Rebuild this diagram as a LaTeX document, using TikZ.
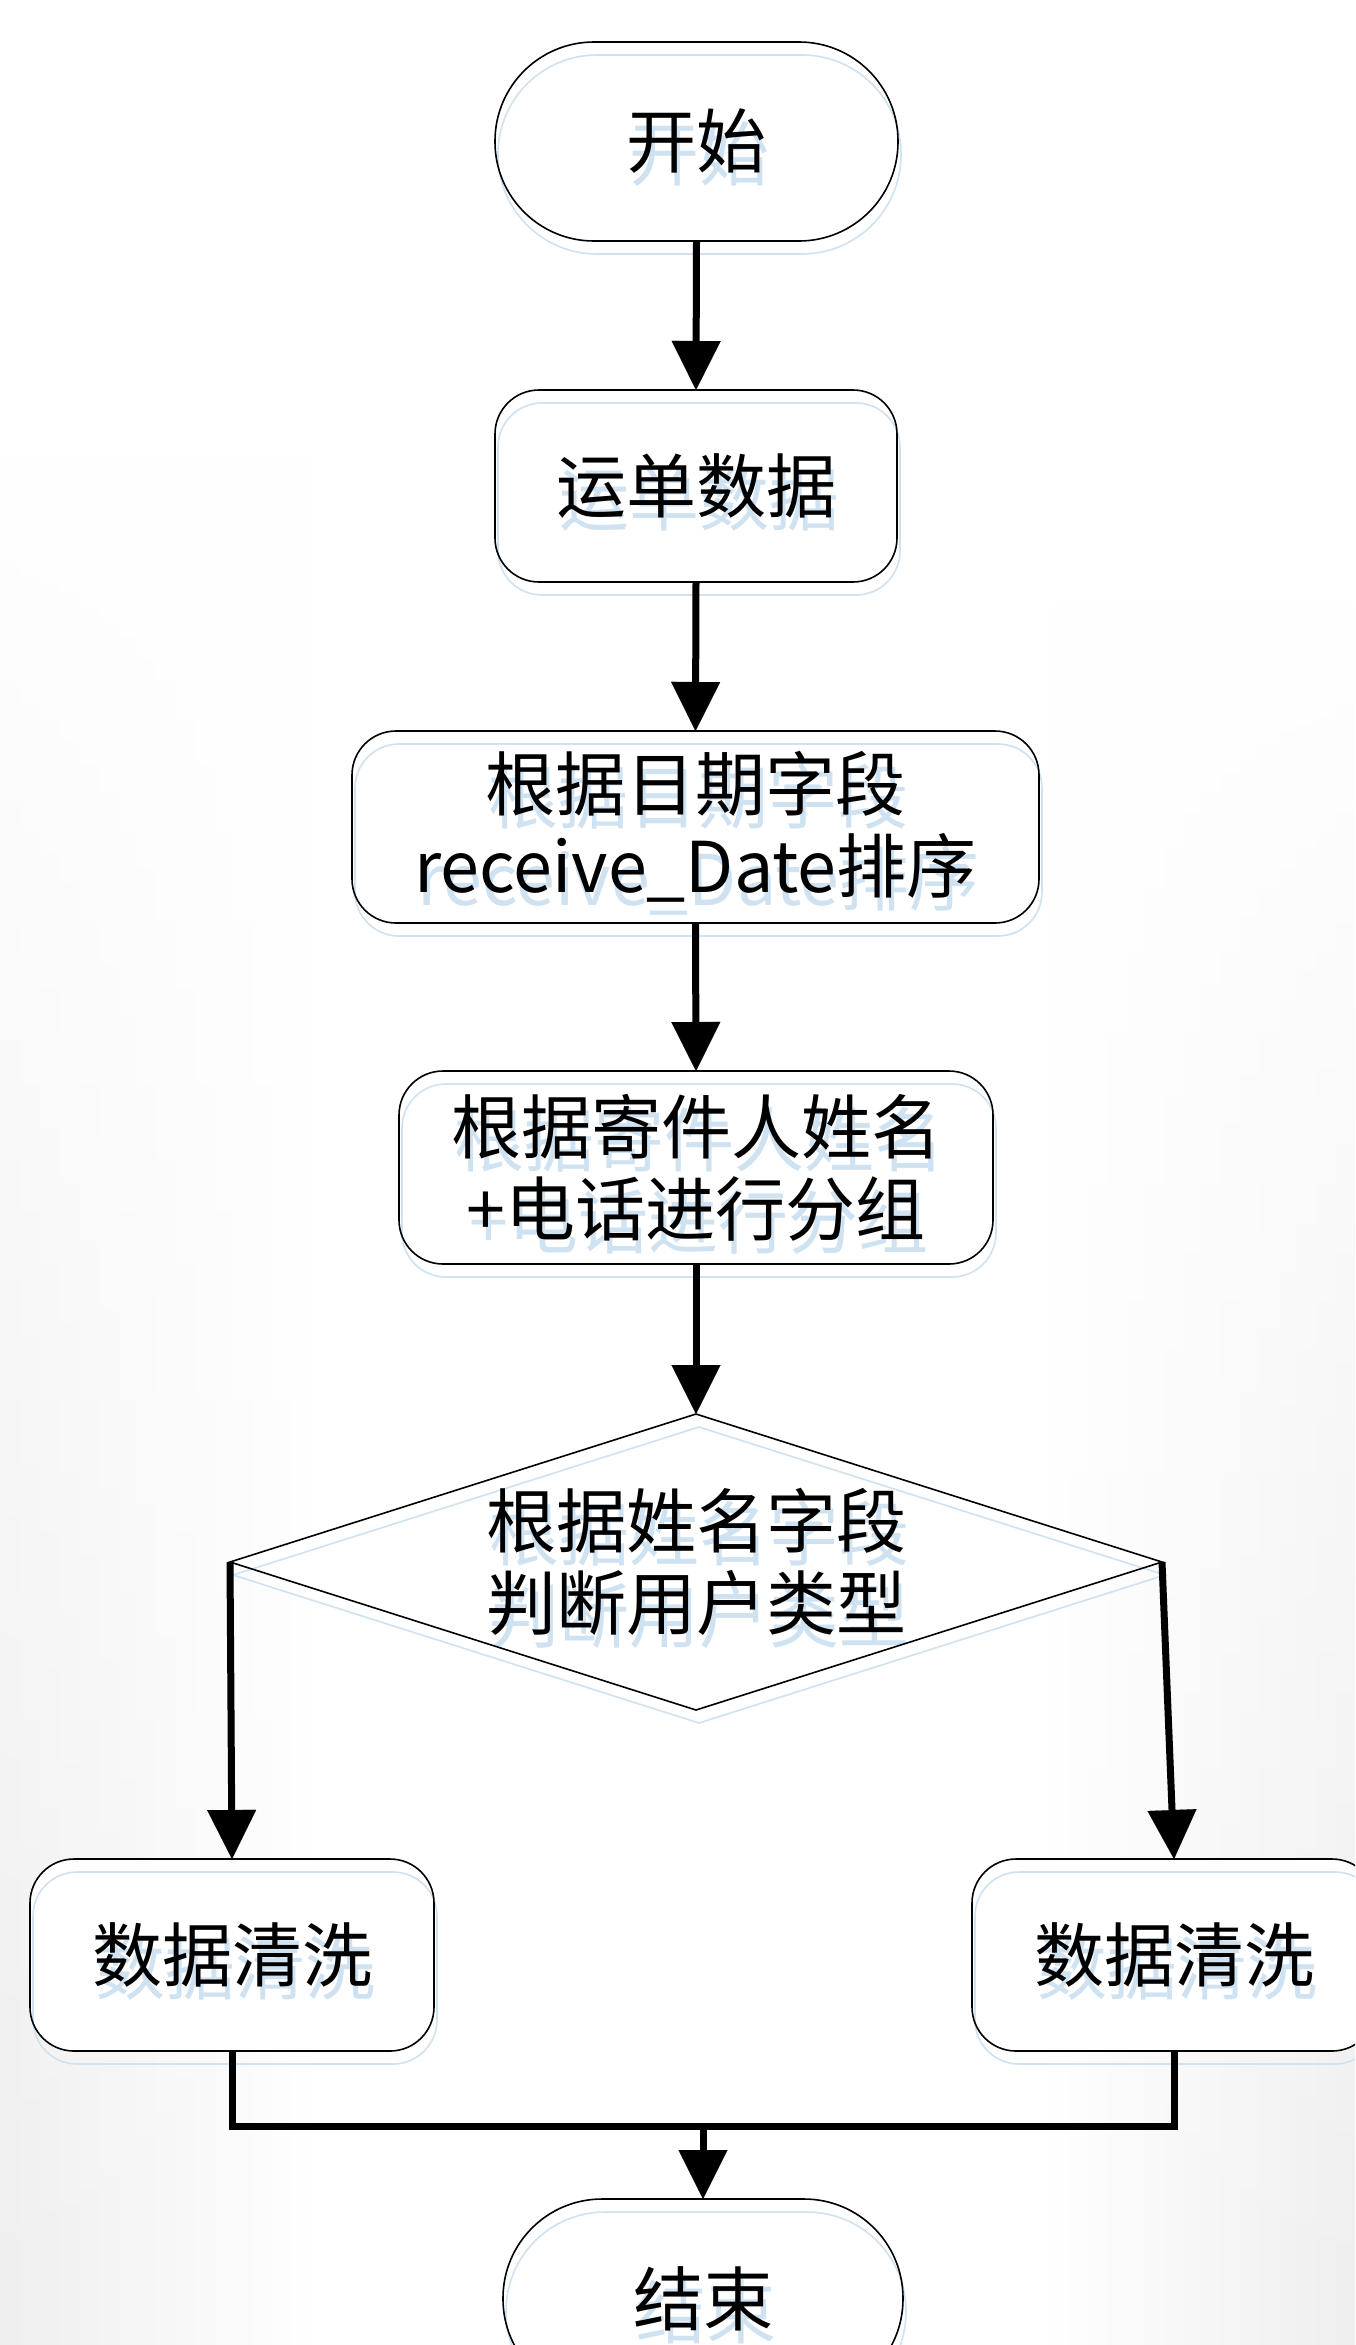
\documentclass[tikz,border=0pt]{standalone}
\usepackage{fontspec}
\newfontfamily\cjk{Noto Sans CJK SC}
\usetikzlibrary{shapes.geometric,arrows.meta,fadings}
\definecolor{shadowblue}{RGB}{207,226,242}
\newcommand\flowitem[5]{%
  \node[#1, fill=white, draw=none] at (#3,#4) {};
  \node[#1, draw=shadowblue, line width=1.6pt, text=shadowblue, xshift=3pt, yshift=-13pt] at (#3,#4) {#5};
  \node[#1, draw=black, line width=1.6pt, text=black] (#2) at (#3,#4) {#5};
}
\begin{document}
\begin{tikzpicture}[x=1pt,y=-1pt,
  txt/.style={font=\cjk\fontsize{70pt}{82pt}\selectfont, align=center, inner sep=0pt, outer sep=0pt},
  term/.style={txt, rectangle, rounded corners=99pt, minimum width=403pt, minimum height=199pt},
  rbox/.style={txt, rectangle, rounded corners=44pt, minimum height=192pt},
  dec/.style={txt, diamond, shape aspect=3.1, minimum width=932pt, minimum height=296pt},
  arr/.style={line width=7pt, -{Triangle[length=49pt,width=49pt,line width=0.1pt]}},
  bond/.style={line width=7pt, line join=miter}]
\useasboundingbox (0,0) rectangle (1355,2345);
\clip (0,0) rectangle (1355,2345);
\fill[white] (0,0) rectangle (1355,2345);
% faint background texture
\shade[left color=gray!13, right color=white, path fading=north] (0,450) rectangle (320,2345);
\shade[left color=white, right color=gray!13, path fading=north] (1040,600) rectangle (1355,2345);
% nodes
\flowitem{term}{st}{696.5}{141.5}{开始}
\flowitem{rbox, minimum width=402pt}{b2}{696}{486}{运单数据}
\flowitem{rbox, minimum width=687pt}{b3}{695.5}{827}{根据日期字段\\receive\_Date排序}
\flowitem{rbox, minimum width=594pt, minimum height=193pt}{b4}{696}{1167.5}{根据寄件人姓名\\+电话进行分组}
\flowitem{dec}{dia}{696}{1562}{根据姓名字段\\判断用户类型}
\flowitem{rbox, minimum width=404pt}{lb}{232}{1955}{数据清洗}
\flowitem{rbox, minimum width=404pt}{rb}{1174}{1955}{数据清洗}
\flowitem{term, minimum width=400pt}{en}{703}{2298.5}{结束}
% connectors
\draw[arr] (st.south) -- (b2.north);
\draw[arr] (b2.south) -- (b3.north);
\draw[arr] (b3.south) -- (b4.north);
\draw[arr] (b4.south) -- (dia.north);
\draw[arr] (dia.west) -- (lb.north);
\draw[arr] (dia.east) -- (rb.north);
\coordinate (mL) at (232,2126);
\coordinate (mR) at (1174,2126);
\coordinate (mM) at (703,2126);
\draw[bond] (lb.south) -- (mL) -- (mR) -- (rb.south);
\draw[arr] (mM) -- (en.north);
\end{tikzpicture}
\end{document}
